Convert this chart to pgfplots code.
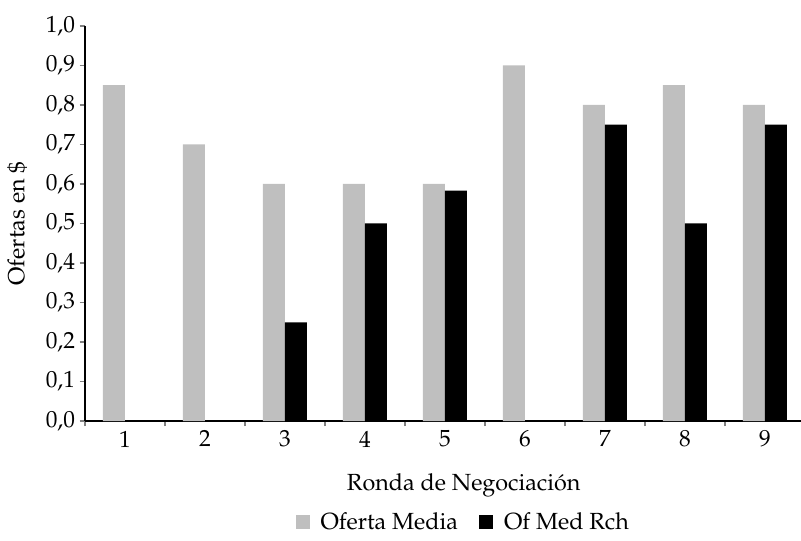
\documentclass[border=0pt]{standalone}
\usepackage[T1]{fontenc}
\usepackage{mathpazo}
\usepackage{pgfplots}
\pgfplotsset{compat=1.18}
\definecolor{graybar}{RGB}{191,191,191}
\newcommand{\chartfont}{\fontsize{17.5}{20}\selectfont}
\begin{document}
\begin{tikzpicture}
\useasboundingbox (0,0) rectangle (600.75pt,405pt);
\begin{axis}[
  at={(63.75pt,89.25pt)}, anchor=south west,
  scale only axis, width=540pt, height=296.25pt,
  xmin=0.5, xmax=9.5, ymin=0, ymax=1,
  axis x line=bottom, axis y line=left,
  axis line style={-, line width=0.9pt},
  ybar=0pt, bar width=16.5pt,
  xtick={1,...,9},
  minor xtick={0.5,1.5,...,9.5},
  major x tick style={draw=none},
  minor x tick style={line width=0.9pt},
  ytick={0,0.1,...,1.0},
  y tick style={line width=0.9pt},
  tick align=outside,
  major tick length=4pt, minor tick length=4pt,
  tick label style={font=\chartfont},
  yticklabel style={/pgf/number format/.cd, fixed, fixed zerofill, precision=1, use comma},
  label style={font=\chartfont},
  xlabel={Ronda de Negociaci\'on},
  xlabel style={at={(axis description cs:0.526,-0.162)}, anchor=center},
  ylabel={Ofertas en \$},
  ylabel style={at={(axis description cs:-0.094,0.5)}, anchor=center},
  legend columns=2,
  legend style={at={(axis description cs:0.526,-0.2557)}, anchor=center, draw=none,
    font=\chartfont,
    /tikz/every odd column/.append style={column sep=6pt},
    /tikz/every even column/.append style={column sep=14pt}},
  legend image code/.code={\fill[#1,draw=none] (0pt,-5.25pt) rectangle (10.5pt,5.25pt);},
]
\addplot[fill=graybar, draw=none] coordinates {(1,0.85) (2,0.70) (3,0.60) (4,0.60) (5,0.60) (6,0.90) (7,0.80) (8,0.85) (9,0.80)};
\addplot[fill=black, draw=none] coordinates {(3,0.25) (4,0.50) (5,0.583) (7,0.75) (8,0.50) (9,0.75)};
\legend{Oferta Media, Of Med Rch}
\end{axis}
\end{tikzpicture}
\end{document}
